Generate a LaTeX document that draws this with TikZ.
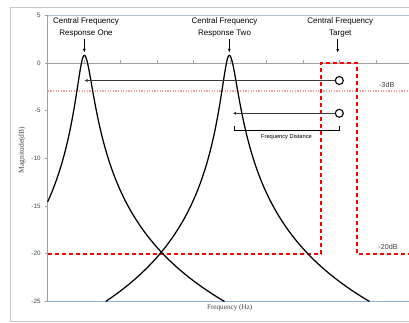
\documentclass[tikz,border=0pt]{standalone}
\usepackage{fontspec}
\setmainfont{Liberation Sans}
\newfontfamily\seriffont{Liberation Serif}
\usetikzlibrary{arrows.meta}
\definecolor{framegray}{HTML}{C8C8C8}
\definecolor{axisgray}{HTML}{A0A0A0}
\definecolor{axisblue}{HTML}{95B3D7}
\definecolor{topblue}{HTML}{B0BED0}
\definecolor{targetred}{HTML}{FF0000}
\definecolor{dotpink}{HTML}{F4A0A0}
\definecolor{arrowgray}{HTML}{383838}
\definecolor{labelgray}{HTML}{404040}
\tikzset{
  curveline/.style={line width=1.25pt, black},
  reddash/.style={line width=1.6pt, draw=targetred, dash pattern=on 4.5pt off 2.5pt},
  dotline/.style={line width=1.5pt, draw=dotpink, dash pattern=on 1.3pt off 1.3pt},
  harrow/.style={line width=1.4pt, arrowgray, -{Latex[length=3.4pt,width=3.2pt]}},
  varrow/.style={line width=0.9pt, black, -{Latex[length=3.6pt,width=3pt]}},
  toplabel/.style={align=center, font=\fontsize{8}{11.6}\selectfont, inner sep=0pt},
  ticklabel/.style={anchor=east, font=\fontsize{6.3}{7}\selectfont, text=labelgray, inner sep=0pt},
  dblabel/.style={font=\fontsize{7.2}{8}\selectfont, text=labelgray, inner sep=0pt},
  marker/.style={circle, draw=black, line width=1.1pt, fill=white, minimum size=8pt, inner sep=0pt}
}
\begin{document}
\begin{tikzpicture}[x=1pt,y=1pt]
\useasboundingbox (0,0) rectangle (409,323);
% outer frame
\draw[framegray, line width=0.9pt] (10,316) rectangle (415,2);
% plot area borders
\draw[topblue, line width=0.7pt] (47.7,307.7) -- (412,307.7);
\draw[axisblue, line width=0.9pt] (47.7,21.5) -- (412,21.5);
\draw[axisgray, line width=0.8pt] (47.7,21.5) -- (47.7,307.7);
\draw[axisgray, line width=0.8pt] (45,260) -- (412,260);
% ticks
\foreach \k in {0,...,8} {
  \draw[axisgray, line width=0.7pt] ({84.2+36.5*\k},260) -- ({84.2+36.5*\k},262.5);
}
\foreach \d in {5,0,-5,-10,-15,-20,-25} {
  \draw[axisgray, line width=0.7pt] (45,{260+9.54*\d}) -- (47.7,{260+9.54*\d});
  \node[ticklabel] at (40.8,{260+9.54*\d}) {\d};
}
% axis titles
\node[rotate=90, font=\seriffont\fontsize{7.5}{8}\selectfont, text=labelgray, inner sep=0pt] (ytitle) at (22,173) {Magnitude(dB)};
\node[font=\seriffont\fontsize{7.2}{8}\selectfont, text=labelgray, inner sep=0pt] (xtitle) at (229.7,15.7) {Frequency (Hz)};
% -3dB dotted line
\draw[dotline] (47.7,231.8) -- (409,231.8);
% target mask
\draw[reddash] (47.7,69) -- (321,69) -- (321,260) -- (357,260) -- (357,69) -- (409,69);
\node[dblabel] (l3) at (386.7,238.3) {-3dB};
\node[dblabel] (l20) at (388,76.3) {-20dB};
% response curves
\draw[curveline]
  plot[domain=47.7:84.3, samples=120] (\x,{260+9.54*(0.8-4.3429*ln(1+((\x-84.3)/6.35)^2))})
  -- plot[domain=84.3:224.5, samples=200] (\x,{260+9.54*(0.8-4.3429*ln(1+((\x-84.3)/7.2)^2))});
\draw[curveline]
  plot[domain=105.7:229.3, samples=180] (\x,{260+9.54*(0.8-4.3429*ln(1+((\x-229.3)/6.35)^2))})
  -- plot[domain=229.3:369.5, samples=200] (\x,{260+9.54*(0.8-4.3429*ln(1+((\x-229.3)/7.2)^2))});
% top labels and arrows
\node[toplabel] (t1) at (86,295.5) {Central Frequency\\Response One};
\node[toplabel] (t2) at (224.5,295.5) {Central Frequency\\Response Two};
\node[toplabel] (t3) at (340.3,295.5) {Central Frequency\\Target};
\coordinate (p1) at (84.3,270.5);
\coordinate (p2) at (229.3,270.5);
\coordinate (p3) at (337.7,270.3);
\draw[varrow] (t1.south -| p1) ++(0,-2) -- (p1);
\draw[varrow] (t2.south -| p2) ++(0,-2) -- (p2);
\draw[varrow] (t3.south -| p3) ++(0,-2) -- (p3);
% circle markers and horizontal arrows
\node[marker] (c1) at (339.3,242.5) {};
\node[marker] (c2) at (339.3,209.7) {};
\coordinate (tipA) at (84.3,242.5);
\coordinate (tipB) at (232.7,209.7);
\draw[harrow] (c1.west) -- (tipA);
\draw[harrow] (c2.west) -- (tipB);
% frequency distance bracket
\coordinate (bl) at (234.3,197);
\coordinate (br) at (339.3,197);
\draw[black, line width=0.9pt] (bl) -- ++(0,-4.7) -| (br);
\node[font=\fontsize{5.7}{6}\selectfont, inner sep=0pt] (fd) at (286.5,185.7) {Frequency Distance};
\end{tikzpicture}
\end{document}
